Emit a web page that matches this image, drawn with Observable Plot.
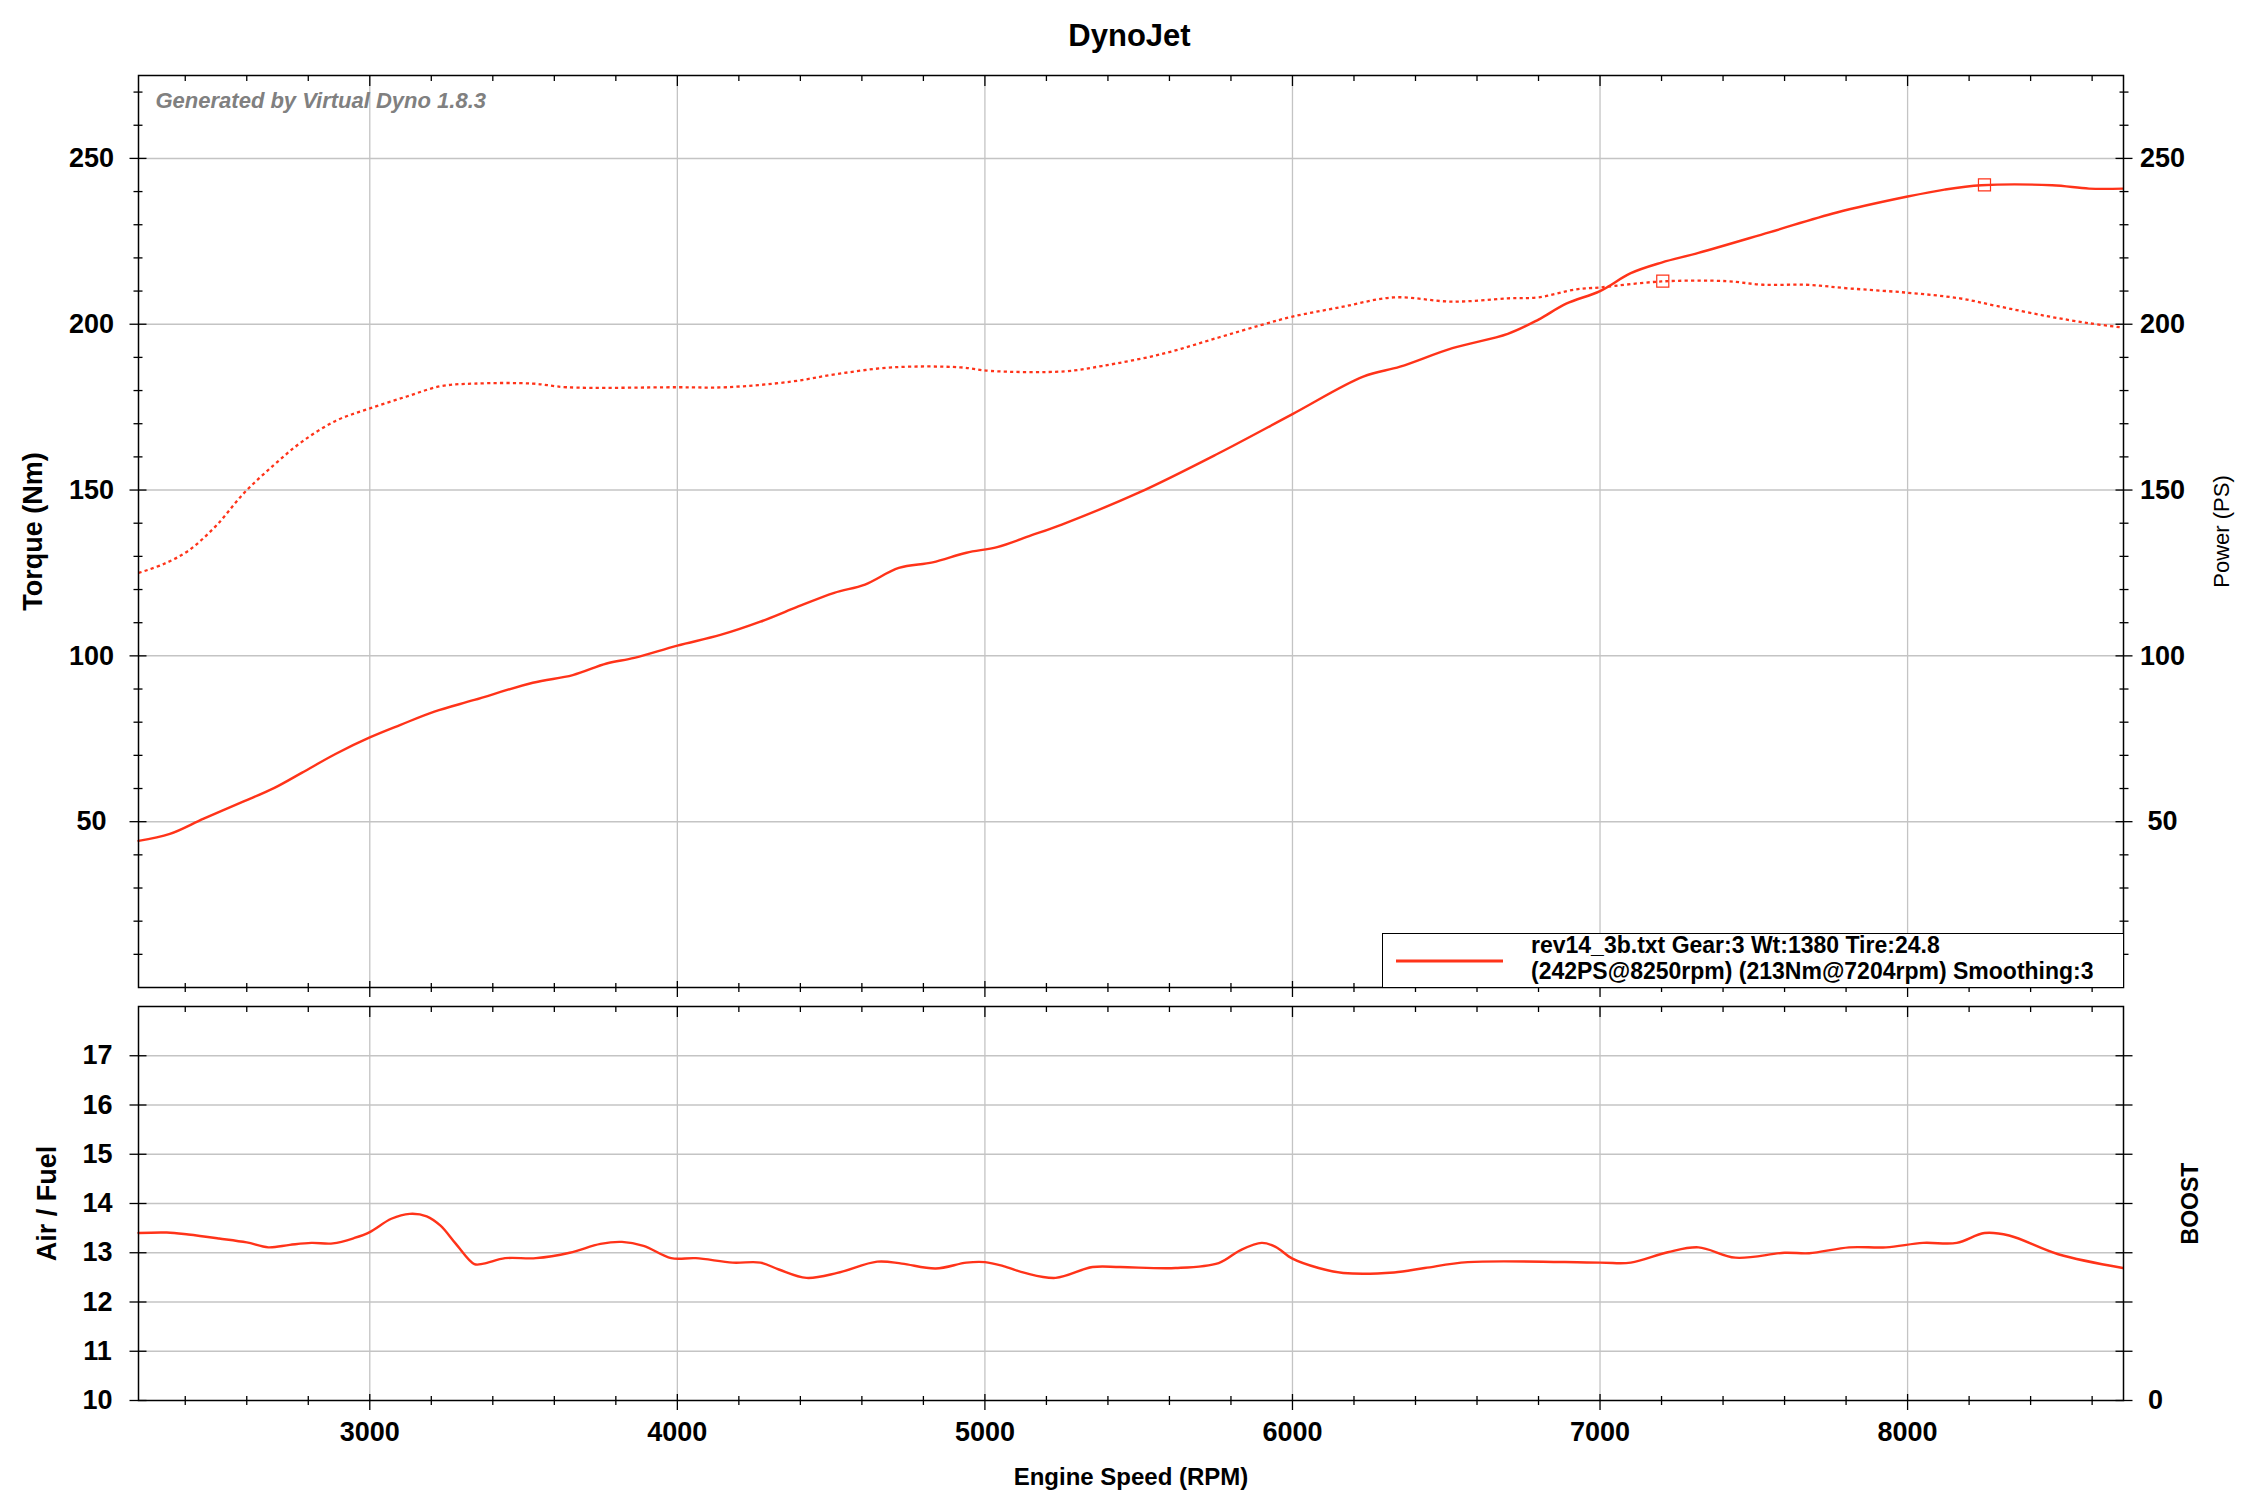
<!DOCTYPE html>
<html>
<head>
<meta charset="utf-8">
<script src="https://cdn.jsdelivr.net/npm/d3@7"></script>
<script src="https://cdn.jsdelivr.net/npm/@observablehq/plot@0.6"></script>
<style>
  html, body { margin: 0; padding: 0; background: #fff; overflow: hidden; }
  #chart { position: relative; width: 2259px; height: 1509px; font-family: "Liberation Sans", Arial, sans-serif; color: #000; }
  #upper, #lower { position: absolute; left: 0; }
  #upper { top: 0; }
  #lower { top: 1000px; }
  #title { position: absolute; left: 0; top: 20px; width: 2259px; text-align: center; font-size: 31px; line-height: 31px; font-weight: bold; margin: 0; }
  #legend { position: absolute; left: 1382px; top: 933px; width: 742px; height: 55px; box-sizing: border-box; border: 1.5px solid #000; background: #fff; font-weight: bold; font-size: 23px; line-height: 26px; }
  #legend .txt { position: absolute; left: 148px; top: -2px; white-space: nowrap; }
  #legend svg { position: absolute; left: 12px; top: 24px; }
</style>
</head>
<body>
<div id="chart">
  <div id="upper"></div>
  <div id="lower"></div>
  <div id="title">DynoJet</div>
  <div id="legend">
    <svg width="110" height="6"><line x1="1" y1="3" x2="108" y2="3" stroke="#ff3319" stroke-width="3"></line></svg>
    <div class="txt" id="legendText"></div>
  </div>
</div>
<script>
// ---------- data ----------
const rpmDomain = [2248, 8702];

const powerRpm = [2248, 2350, 2460, 2590, 2690, 2780, 2890, 3000, 3100, 3210, 3340, 3530, 3660, 3770, 3860, 4000, 4140, 4270, 4380, 4510, 4610, 4720, 4830, 4940, 5040, 5150, 5250, 5500, 5760, 6000, 6230, 6350, 6520, 6700, 6800, 6890, 7000, 7100, 7200, 7320, 7550, 7770, 8000, 8120, 8240, 8470, 8590, 8700];
const powerPS  = [44.2, 46.3, 50.9, 56.1, 60.2, 64.8, 70.5, 75.4, 79.2, 83.2, 86.7, 91.9, 94.2, 97.7, 99.4, 103.1, 106.3, 110.3, 114.4, 119.0, 121.5, 126.5, 128.2, 131.1, 132.8, 136.3, 139.6, 149.2, 161.1, 172.9, 184.2, 187.2, 192.8, 197.1, 201.4, 206.2, 210.0, 215.4, 218.6, 221.5, 227.7, 233.7, 238.5, 240.6, 241.9, 241.9, 240.9, 240.9];

const torqueRpm = [2248, 2330, 2410, 2500, 2590, 2690, 2780, 2890, 3000, 3120, 3230, 3340, 3530, 3640, 4000, 4160, 4370, 4520, 4700, 4920, 5020, 5260, 5380, 5570, 5760, 5900, 6000, 6160, 6330, 6520, 6700, 6800, 6920, 7000, 7200, 7410, 7530, 7670, 7810, 8000, 8170, 8290, 8450, 8590, 8700];
const torqueNm  = [125.0, 127.7, 131.7, 139.2, 149.0, 157.7, 164.6, 170.9, 174.6, 178.2, 181.3, 182.1, 182.1, 181.0, 181.0, 181.0, 182.7, 185.0, 187.0, 187.0, 185.9, 185.8, 187.4, 190.9, 196.0, 199.8, 202.3, 205.2, 208.1, 206.8, 207.8, 208.1, 210.5, 211.1, 212.9, 213.0, 211.9, 211.9, 210.8, 209.5, 207.8, 205.5, 202.5, 200.3, 199.0];

const peakRpm = [8250, 7204];
const peakValue = [242, 213];

const afrRpm = [2248, 2340, 2410, 2510, 2600, 2670, 2740, 2810, 2880, 2950, 3000, 3070, 3130, 3185, 3230, 3280, 3340, 3370, 3440, 3540, 3650, 3750, 3820, 3890, 3980, 4060, 4180, 4270, 4330, 4420, 4520, 4650, 4730, 4840, 4940, 5000, 5060, 5130, 5230, 5350, 5440, 5620, 5760, 5830, 5900, 5945, 6000, 6085, 6165, 6330, 6430, 6570, 7000, 7100, 7220, 7320, 7440, 7600, 7680, 7810, 7930, 8050, 8160, 8250, 8330, 8490, 8700];
const afrValue = [13.40, 13.41, 13.37, 13.29, 13.21, 13.11, 13.16, 13.20, 13.19, 13.30, 13.42, 13.69, 13.79, 13.74, 13.55, 13.18, 12.77, 12.78, 12.89, 12.89, 13.00, 13.18, 13.22, 13.14, 12.89, 12.89, 12.80, 12.80, 12.66, 12.49, 12.59, 12.82, 12.78, 12.68, 12.80, 12.81, 12.73, 12.59, 12.49, 12.71, 12.71, 12.69, 12.79, 13.05, 13.20, 13.12, 12.88, 12.69, 12.59, 12.60, 12.69, 12.81, 12.80, 12.80, 13.01, 13.11, 12.90, 13.00, 12.99, 13.11, 13.11, 13.20, 13.20, 13.40, 13.35, 12.97, 12.69];

const rpmMajorTicks = [3000, 4000, 5000, 6000, 7000, 8000];
const rpmMinorTicks = [2400, 2600, 2800, 3200, 3400, 3600, 3800, 4200, 4400, 4600, 4800, 5200, 5400, 5600, 5800, 6200, 6400, 6600, 6800, 7200, 7400, 7600, 7800, 8200, 8400, 8600];
const torqueMajorTicks = [50, 100, 150, 200, 250];
const torqueMinorTicks = [10, 20, 30, 40, 60, 70, 80, 90, 110, 120, 130, 140, 160, 170, 180, 190, 210, 220, 230, 240, 260, 270];
const afrTicks = [10, 11, 12, 13, 14, 15, 16, 17];
const afrGridTicks = [11, 12, 13, 14, 15, 16, 17];
const boostTickLabels = ["0"];

const titleText = "DynoJet";
const creditText = "Generated by Virtual Dyno 1.8.3";
const legendLines = ["rev14_3b.txt Gear:3 Wt:1380 Tire:24.8", "(242PS@8250rpm) (213Nm@7204rpm) Smoothing:3"];
const torqueLabel = "Torque (Nm)";
const powerLabel = "Power (PS)";
const afrLabel = "Air / Fuel";
const boostLabel = "BOOST";
const xLabel = "Engine Speed (RPM)";

// ---------- build ----------
const rows = (xs, ys) => xs.map((r, i) => ({rpm: r, v: ys[i]}));
const powerRows = rows(powerRpm, powerPS);
const torqueRows = rows(torqueRpm, torqueNm);
const peakRows = rows(peakRpm, peakValue);
const afrRows = rows(afrRpm, afrValue);

const W = 2259;
const red = "#ff3319";
const gridColor = "#c4c4c4";
const font = "'Liberation Sans', Arial, sans-serif";
const baseStyle = {background: "transparent", maxWidth: "none", overflow: "visible", fontFamily: font, fontSize: "27px", fontWeight: "bold", color: "#000"};
const curve = "catmull-rom";

const upper = Plot.plot({
  width: W, height: 1000,
  marginTop: 75, marginBottom: 13, marginLeft: 138, marginRight: 136,
  x: {domain: rpmDomain},
  y: {domain: [0, 275]},
  style: baseStyle,
  marks: [
    Plot.ruleY(torqueMajorTicks, {stroke: gridColor, strokeWidth: 1.5}),
    Plot.ruleX(rpmMajorTicks, {stroke: gridColor, strokeWidth: 1.3}),
    Plot.line(torqueRows, {x: "rpm", y: "v", stroke: red, strokeWidth: 2.3, strokeDasharray: "3.2 3.2", strokeLinecap: "butt", curve}),
    Plot.line(powerRows, {x: "rpm", y: "v", stroke: red, strokeWidth: 2.4, curve}),
    Plot.dot(peakRows, {x: "rpm", y: "v", symbol: "square", r: 6.8, stroke: red, strokeWidth: 1.2, fill: "none"}),
    Plot.frame({stroke: "#000", strokeWidth: 1.5}),
    // left ticks
    Plot.axisY(torqueMinorTicks, {anchor: "left", tickSize: 9, dx: 4.5, fill: "none", label: null, strokeWidth: 1.3}),
    Plot.axisY(torqueMajorTicks, {anchor: "left", tickSize: 17, dx: 8.5, fill: "none", label: null, strokeWidth: 1.3}),
    Plot.axisY(torqueMajorTicks, {anchor: "left", tickSize: 0, tickPadding: 47, textAnchor: "middle", label: null, fontSize: 27, fontWeight: "bold"}),
    // right ticks
    Plot.axisY(torqueMinorTicks, {anchor: "right", tickSize: 9, dx: -4.5, fill: "none", label: null, strokeWidth: 1.3}),
    Plot.axisY(torqueMajorTicks, {anchor: "right", tickSize: 17, dx: -8.5, fill: "none", label: null, strokeWidth: 1.3}),
    Plot.axisY(torqueMajorTicks, {anchor: "right", tickSize: 0, tickPadding: 39, textAnchor: "middle", label: null, fontSize: 27, fontWeight: "bold"}),
    // top ticks (inside)
    Plot.axisX(rpmMinorTicks, {anchor: "top", tickSize: 5, dy: 5, fill: "none", label: null, strokeWidth: 1.3}),
    Plot.axisX(rpmMajorTicks, {anchor: "top", tickSize: 10, dy: 10, fill: "none", label: null, strokeWidth: 1.3}),
    // bottom ticks (crossing)
    Plot.axisX(rpmMinorTicks, {anchor: "bottom", tickSize: 9, dy: -4, fill: "none", label: null, strokeWidth: 1.3}),
    Plot.axisX(rpmMajorTicks, {anchor: "bottom", tickSize: 16, dy: -6, fill: "none", label: null, strokeWidth: 1.3}),
    // texts
    Plot.text([creditText], {text: d => d, frameAnchor: "top-left", dx: 17, dy: 25, textAnchor: "start", lineAnchor: "middle", fill: "#808080", fontStyle: "italic", fontWeight: "bold", fontSize: 22}),
    Plot.text([torqueLabel], {text: d => d, frameAnchor: "left", dx: -105, rotate: -90, textAnchor: "middle", lineAnchor: "middle", fontSize: 27, fontWeight: "bold"}),
    Plot.text([powerLabel], {text: d => d, frameAnchor: "right", dx: 98, rotate: -90, textAnchor: "middle", lineAnchor: "middle", fontSize: 22, fontWeight: "normal"})
  ]
});
document.getElementById("upper").append(upper);

const lower = Plot.plot({
  width: W, height: 509,
  marginTop: 6, marginBottom: 109, marginLeft: 138, marginRight: 136,
  x: {domain: rpmDomain},
  y: {domain: [10, 18]},
  style: baseStyle,
  marks: [
    Plot.ruleY(afrGridTicks, {stroke: gridColor, strokeWidth: 1.5}),
    Plot.ruleX(rpmMajorTicks, {stroke: gridColor, strokeWidth: 1.3}),
    Plot.line(afrRows, {x: "rpm", y: "v", stroke: red, strokeWidth: 2.4, curve}),
    Plot.frame({stroke: "#000", strokeWidth: 1.5}),
    Plot.axisY(afrTicks, {anchor: "left", tickSize: 17, dx: 8.5, fill: "none", label: null, strokeWidth: 1.3}),
    Plot.axisY(afrTicks, {anchor: "left", tickSize: 0, tickPadding: 41, textAnchor: "middle", label: null, fontSize: 27, fontWeight: "bold"}),
    Plot.axisY(afrTicks, {anchor: "right", tickSize: 17, dx: -8.5, fill: "none", label: null, strokeWidth: 1.3}),
    Plot.axisX(rpmMinorTicks, {anchor: "top", tickSize: 5, dy: 5, fill: "none", label: null, strokeWidth: 1.3}),
    Plot.axisX(rpmMajorTicks, {anchor: "top", tickSize: 10, dy: 10, fill: "none", label: null, strokeWidth: 1.3}),
    Plot.axisX(rpmMinorTicks, {anchor: "bottom", tickSize: 9, dy: -4, fill: "none", label: null, strokeWidth: 1.3}),
    Plot.axisX(rpmMajorTicks, {anchor: "bottom", tickSize: 16, dy: -6, fill: "none", label: null, strokeWidth: 1.3}),
    Plot.axisX(rpmMajorTicks, {anchor: "bottom", tickSize: 0, tickPadding: 21, tickFormat: d => String(d), label: null, fontSize: 27, fontWeight: "bold"}),
    Plot.text(boostTickLabels, {text: d => d, frameAnchor: "bottom-right", dx: 32, textAnchor: "middle", lineAnchor: "middle", fontSize: 27, fontWeight: "bold"}),
    Plot.text([afrLabel], {text: d => d, frameAnchor: "left", dx: -91, rotate: -90, textAnchor: "middle", lineAnchor: "middle", fontSize: 27, fontWeight: "bold"}),
    Plot.text([boostLabel], {text: d => d, frameAnchor: "right", dx: 67, rotate: -90, textAnchor: "middle", lineAnchor: "middle", fontSize: 23, fontWeight: "bold"}),
    Plot.text([xLabel], {text: d => d, frameAnchor: "bottom", dy: 77, textAnchor: "middle", lineAnchor: "middle", fontSize: 24, fontWeight: "bold"})
  ]
});
document.getElementById("lower").append(lower);

document.getElementById("title").textContent = titleText;
document.getElementById("legendText").innerHTML = legendLines.map(s => `<div>${s}</div>`).join("");
</script>
</body>
</html>
